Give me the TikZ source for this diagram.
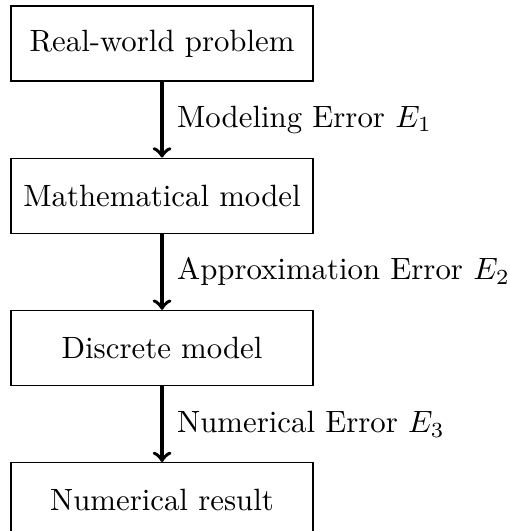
\documentclass[tikz,border=0pt]{standalone}
\usetikzlibrary{positioning}

\begin{document}
\begin{tikzpicture}[
        node distance=0.867cm,
        stage/.style={draw, minimum width=3.446cm, minimum height=0.856cm},
        flow/.style={->, very thick}
    ]
    \useasboundingbox (-1.849,0.496) rectangle (3.960,-5.563);
    \node[stage] (problem) {Real-world problem};
    \node[stage, below=of problem] (mathmodel) {Mathematical model};
    \node[stage, below=of mathmodel] (discrete) {Discrete model};
    \node[stage, below=of discrete] (result) {Numerical result};
    \draw[flow] (problem) -- node[right, xshift=1pt] {Modeling Error $E_1$} (mathmodel);
    \draw[flow] (mathmodel) -- node[right, xshift=1pt] {Approximation Error $E_2$} (discrete);
    \draw[flow] (discrete) -- node[right, xshift=1pt] {Numerical Error $E_3$} (result);
\end{tikzpicture}
\end{document}
